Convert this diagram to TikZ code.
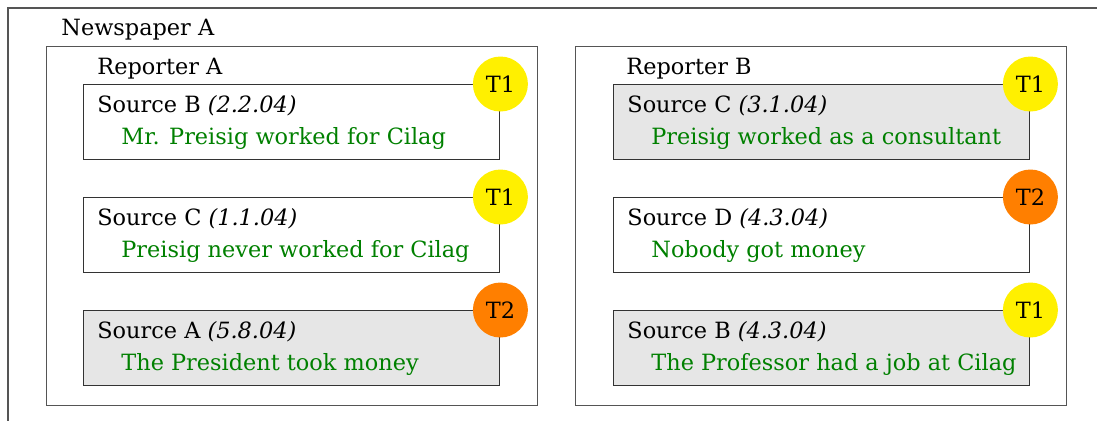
\documentclass[tikz,border=0pt]{standalone}
\usepackage{fontspec}
\setmainfont{DejaVu Serif}
\usetikzlibrary{positioning}
\definecolor{my_frame}{HTML}{555555}
\definecolor{my_line}{HTML}{333333}
\definecolor{my_green}{HTML}{008000}
\definecolor{my_gray}{HTML}{E6E6E6}
\definecolor{my_yellow}{HTML}{FFF000}
\definecolor{my_orange}{HTML}{FF7F00}
\newcommand{\srcitem}[3]{%
    Source #1 \textit{(#2)}\\
    \hspace*{12pt}\textcolor{my_green}{#3}%
}
\begin{document}
\begin{tikzpicture}[
    x=0.5pt, y=-0.5pt,
    font=\fontsize{11.2}{16}\selectfont,
    frame/.style={draw=my_frame, line width=0.7pt},
    repbox/.style={frame, anchor=north west, minimum width=245.5pt,
        minimum height=179.5pt, inner sep=0pt},
    srcbox/.style={draw=my_line, line width=0.7pt, anchor=north west,
        minimum width=208pt, minimum height=37.5pt, inner sep=0pt},
    srctext/.style={align=left, inner sep=0pt},
    title/.style={anchor=base west, inner sep=0pt},
    tag/.style={circle, minimum size=27.5pt, inner sep=0pt}
]
\useasboundingbox (0,0) rectangle (1097,420);
\clip (0,0) rectangle (1097,420);

% ---- Zeitung ----
\draw[frame] (8,8) rectangle (1130,450);
\node[title] (paperA) at (61,35) {Newspaper A};

% ---- Reporter A ----
\node[repbox] (repA) at (46,46) {};
\node[title] (repAlabel) at (97,74) {Reporter A};

\node[srcbox] (a1) at (83,84) {};
\node[srctext, right=7pt of a1.west] (a1t) {\srcitem{B}{2.2.04}{Mr. Preisig worked for Cilag}};
\node[tag, fill=my_yellow] (a1tag) at (a1.north east) {T1};

\node[srcbox] (a2) at (83,197) {};
\node[srctext, right=7pt of a2.west] (a2t) {\srcitem{C}{1.1.04}{Preisig never worked for Cilag}};
\node[tag, fill=my_yellow] (a2tag) at (a2.north east) {T1};

\node[srcbox, fill=my_gray] (a3) at (83,310) {};
\node[srctext, right=7pt of a3.west] (a3t) {\srcitem{A}{5.8.04}{The President took money}};
\node[tag, fill=my_orange] (a3tag) at (a3.north east) {T2};

% ---- Reporter B ----
\node[repbox] (repB) at (575,46) {};
\node[title] (repBlabel) at (626,74) {Reporter B};

\node[srcbox, fill=my_gray] (b1) at (613,84) {};
\node[srctext, right=7pt of b1.west] (b1t) {\srcitem{C}{3.1.04}{Preisig worked as a consultant}};
\node[tag, fill=my_yellow] (b1tag) at (b1.north east) {T1};

\node[srcbox] (b2) at (613,197) {};
\node[srctext, right=7pt of b2.west] (b2t) {\srcitem{D}{4.3.04}{Nobody got money}};
\node[tag, fill=my_orange] (b2tag) at (b2.north east) {T2};

\node[srcbox, fill=my_gray] (b3) at (613,310) {};
\node[srctext, right=7pt of b3.west] (b3t) {\srcitem{B}{4.3.04}{The Professor had a job at Cilag}};
\node[tag, fill=my_yellow] (b3tag) at (b3.north east) {T1};

\end{tikzpicture}
\end{document}
